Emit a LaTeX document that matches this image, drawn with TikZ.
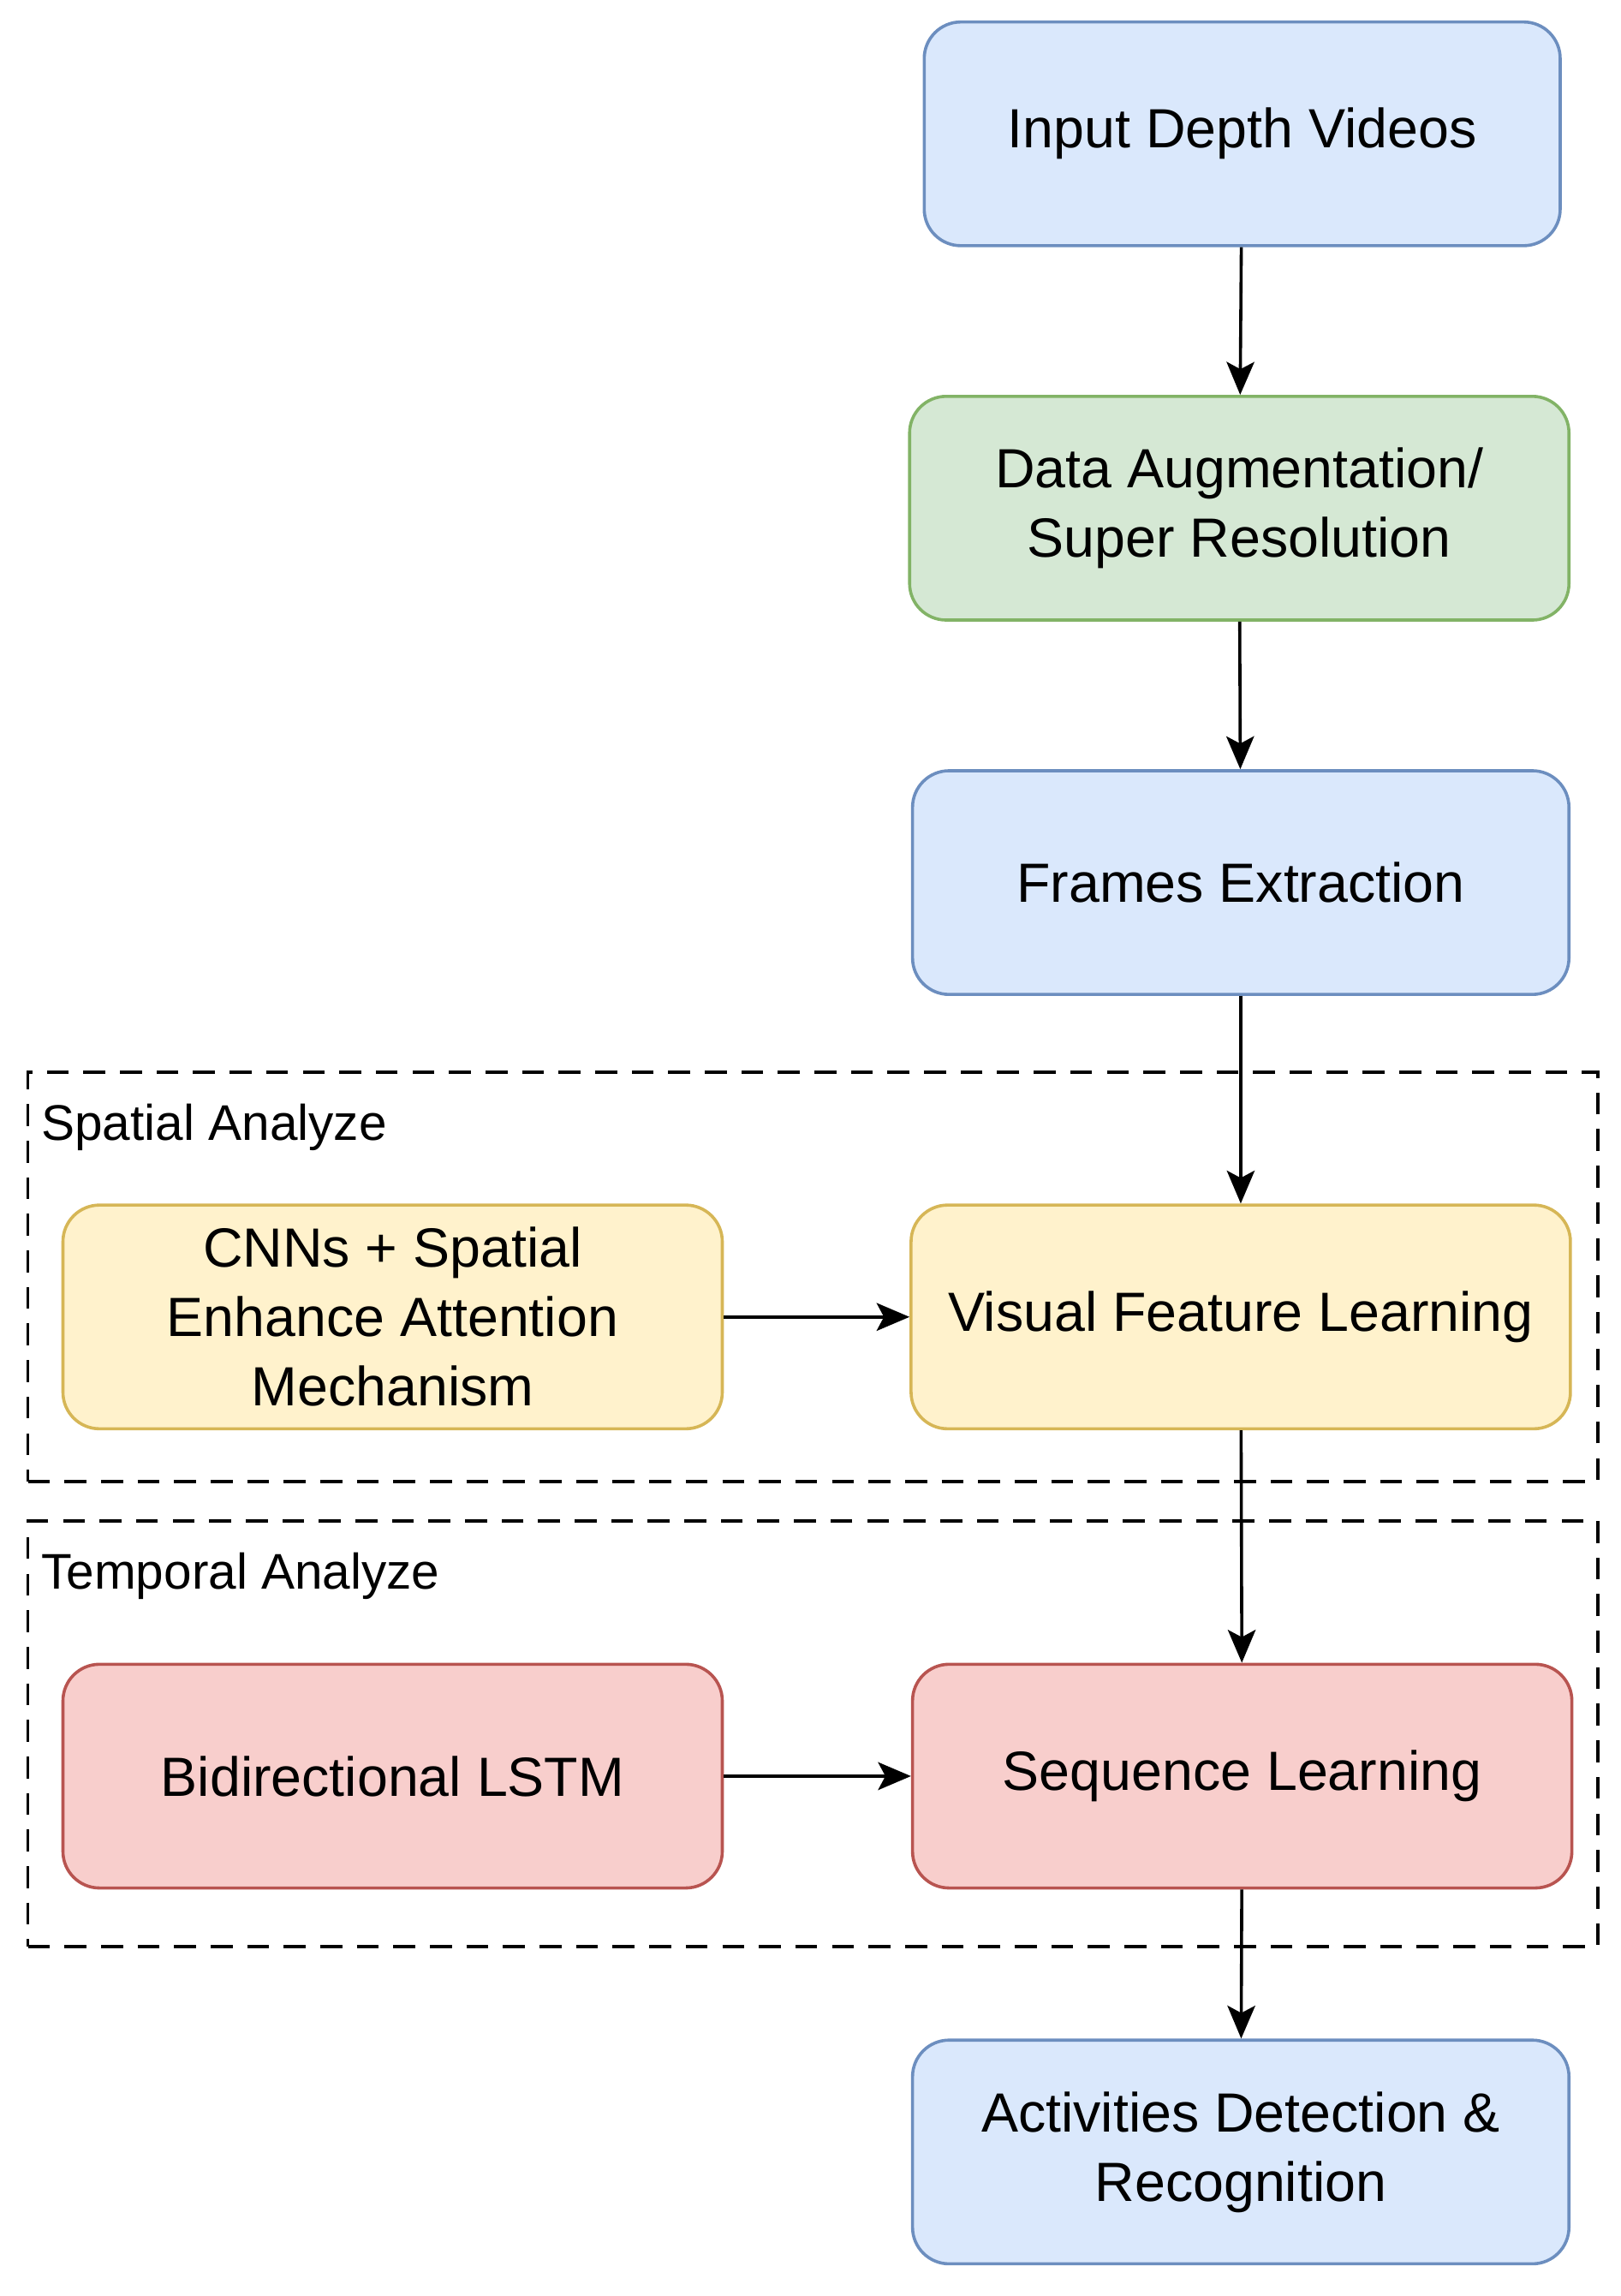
\documentclass[tikz,border=0pt]{standalone}
\usepackage{fontspec}
\setmainfont{Liberation Sans}
\usetikzlibrary{arrows.meta}
\definecolor{bF}{HTML}{DAE8FC}\definecolor{bD}{HTML}{6C8EBF}
\definecolor{gF}{HTML}{D5E8D4}\definecolor{gD}{HTML}{82B366}
\definecolor{yF}{HTML}{FFF2CC}\definecolor{yD}{HTML}{D6B656}
\definecolor{rF}{HTML}{F8CECC}\definecolor{rD}{HTML}{B85450}
\begin{document}
\begin{tikzpicture}[x={(0.02cm,0)},y={(0,-0.02cm)},
 box/.style={draw,line width=1.2pt,rounded corners=0.5cm,minimum height=3.06cm,align=center,
   font=\fontsize{21.5}{27}\selectfont,inner sep=0pt},
 blue/.style={box,fill=bF,draw=bD},green/.style={box,fill=gF,draw=gD},
 yel/.style={box,fill=yF,draw=yD},red/.style={box,fill=rF,draw=rD},
 arr/.style={line width=1.2pt,-{Stealth[length=0.45cm,width=0.38cm,inset=0.1cm]}},
 grp/.style={draw,line width=1.2pt,dash pattern=on 0.3cm off 0.2cm},
 lab/.style={anchor=west,font=\fontsize{19.5}{24}\selectfont,inner sep=0pt}]
\useasboundingbox (0,0) rectangle (1108,1570);
\node[grp,minimum width=21.48cm,minimum height=5.6cm,anchor=north west] (sp) at (18,732) {};
\node[grp,minimum width=21.48cm,minimum height=5.82cm,anchor=north west] (tp) at (18,1039) {};
\node[lab] (spl) at (28,771) {Spatial Analyze};
\node[lab] (tpl) at (28,1078) {Temporal Analyze};
\node[blue,minimum width=8.7cm] (in) at (849.5,91.5) {Input Depth Videos};
\node[green,minimum width=9.02cm] (da) at (847.5,347.5) {Data Augmentation/\\Super Resolution};
\node[blue,minimum width=8.98cm] (fe) at (848.5,603.5) {Frames Extraction};
\node[yel,minimum width=9.02cm] (cnn) at (268.5,900.5) {CNNs + Spatial\\Enhance Attention\\Mechanism};
\node[yel,minimum width=9.02cm] (vf) at (848.5,900.5) {Visual Feature Learning};
\node[red,minimum width=9.02cm] (bl) at (268.5,1214.5) {Bidirectional LSTM};
\node[red,minimum width=9.02cm] (sq) at (849.5,1214.5) {Sequence Learning};
\node[blue,minimum width=8.98cm] (ad) at (848.5,1471.5) {Activities Detection \&\\Recognition};
\draw[arr] (in) -- (da);
\draw[arr] (da) -- (fe);
\draw[arr] (fe) -- (vf);
\draw[arr] (vf) -- (sq);
\draw[arr] (sq) -- (ad);
\draw[arr] (cnn) -- (vf);
\draw[arr] (bl) -- (sq);
\end{tikzpicture}
\end{document}
